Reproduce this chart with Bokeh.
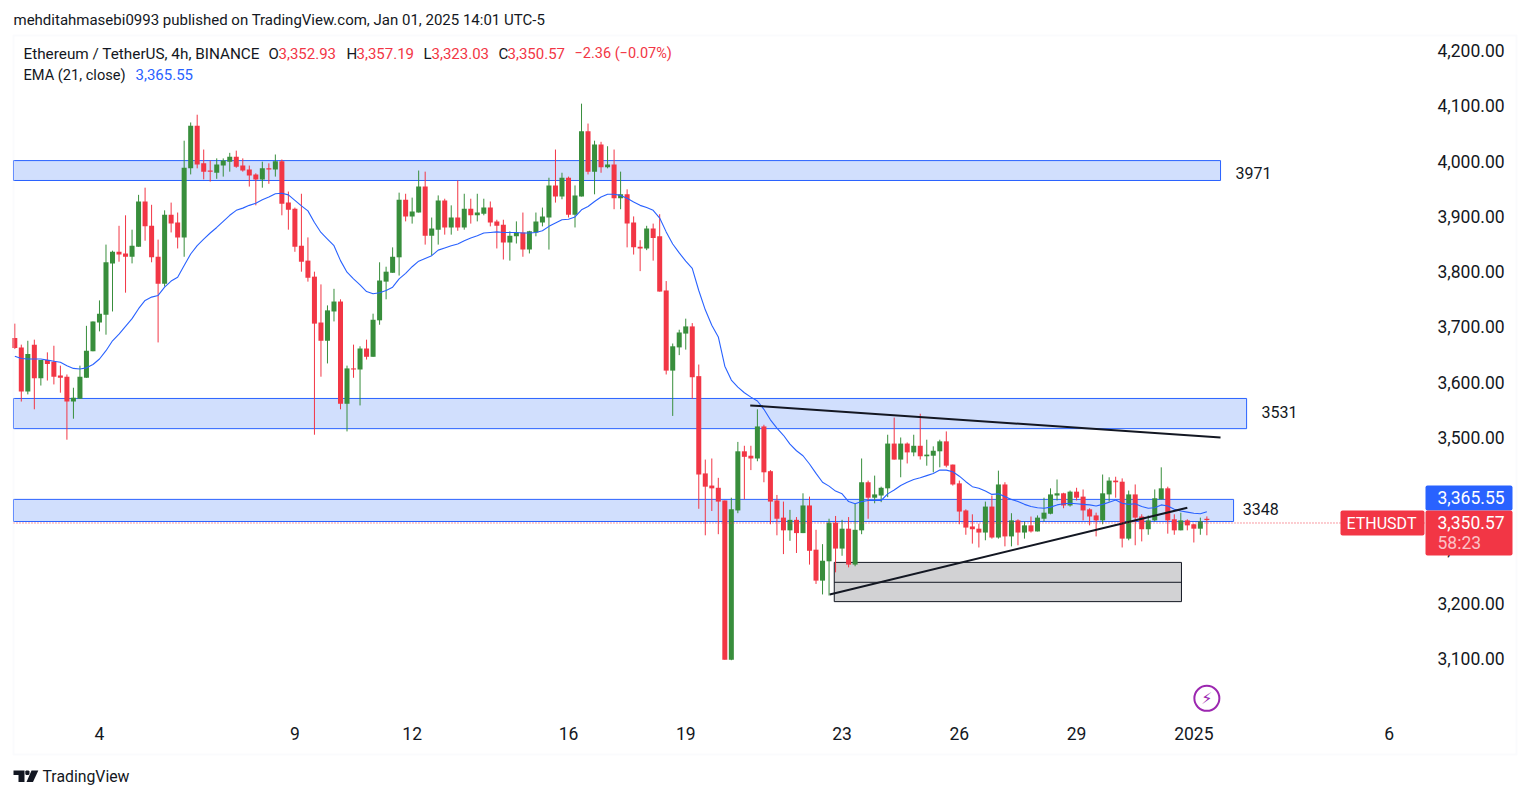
from bokeh.plotting import figure
from bokeh.models import (Range1d, LinearAxis, FixedTicker, NumeralTickFormatter, Label, BoxAnnotation,
                          PolyAnnotation, ColumnDataSource)
from bokeh.embed import file_html
from bokeh.resources import INLINE

directions = ("rrgrgrrrrg" "ggggggrrgg" "rrrgrrggrr" "rgggrrrrgr" "grrrrrrrgg" "rgrgrggggg" "rggrggrgrg" "rggrrrggrg"
              "gggrgrggrg" "rgrgrrrgrr" "rgggrrrrrr" "ggrrgrrrrg" "rgrrggrgrg" "grgggrgrgr" "gggrrrrrrg" "rgrgrgrggg"
              "grgrrrrggr" "rgrrgggrrg" "rrgr")
highs = [3706,3668,3675,3677,3640,3654,3666,3630,3614,3590,
3630,3702,3710,3748,3849,3838,3883,3902,3876,3939,
3952,3921,3858,3911,3925,3907,4037,4070,4084,4021,
4001,4005,4005,4015,4019,4005,3992,3978,3999,3996,
4012,4003,3945,3916,3941,3862,3800,3777,3739,3769,
3750,3630,3668,3665,3677,3724,3817,3809,3844,3943,
3941,3934,3983,3981,3898,3938,3932,3920,3965,3941,
3932,3941,3932,3927,3894,3894,3873,3891,3907,3874,
3907,3916,3970,4021,3979,3972,3956,4104,4068,4037,
4035,4027,4021,3981,3949,3900,3857,3883,3887,3904,
3783,3670,3695,3715,3707,3632,3460,3462,3427,3386,
3391,3492,3485,3485,3551,3523,3441,3396,3384,3369,
3356,3399,3393,3333,3307,3353,3358,3351,3356,3380,
3462,3422,3431,3411,3505,3536,3500,3491,3505,3543,
3496,3484,3496,3511,3451,3422,3370,3361,3344,3384,
3395,3440,3419,3363,3352,3348,3357,3359,3391,3408,
3424,3400,3404,3409,3406,3372,3364,3433,3428,3429,
3426,3404,3415,3361,3359,3406,3446,3411,3361,3364,
3352,3344,3355,3357.19]
body_tops = [3680,3663,3651,3668,3640,3640,3637,3612,3610,3572,
3610,3657,3710,3724,3817,3836,3836,3833,3847,3927,
3927,3883,3827,3903,3903,3889,3988,4064,4064,3996,
3983,3994,4001,4008,4008,3992,3985,3976,3987,3987,
4000,4000,3925,3914,3847,3820,3791,3708,3730,3746,
3746,3625,3625,3661,3661,3713,3784,3800,3827,3930,
3930,3909,3954,3954,3878,3929,3929,3898,3898,3914,
3914,3907,3916,3916,3891,3885,3865,3871,3871,3873,
3891,3900,3956,3956,3970,3970,3938,4054,4054,4030,
4030,3994,3994,3940,3940,3889,3845,3878,3878,3864,
3766,3665,3690,3701,3701,3611,3435,3413,3409,3386,
3370,3475,3475,3467,3520,3520,3439,3386,3355,3351,
3351,3377,3377,3297,3277,3346,3346,3335,3335,3333,
3419,3419,3397,3409,3489,3489,3489,3489,3485,3485,
3469,3476,3493,3493,3451,3417,3368,3339,3335,3375,
3375,3415,3415,3350,3350,3341,3341,3355,3364,3397,
3399,3399,3402,3402,3393,3370,3359,3399,3422,3422,
3420,3397,3397,3357,3350,3390,3408,3408,3352,3350,
3350,3343,3348,3352.93]
body_bottoms = [3662,3583,3583,3607,3607,3633,3610,3608,3565,3565,
3570,3608,3656,3708,3722,3815,3831,3827,3827,3845,
3882,3826,3778,3778,3887,3862,3862,3987,3994,3981,
3981,3979,3992,3999,3990,3983,3974,3967,3967,3985,
3985,3923,3912,3845,3818,3789,3706,3675,3675,3728,
3561,3561,3623,3623,3646,3646,3712,3782,3798,3826,
3900,3900,3907,3865,3865,3876,3880,3880,3880,3880,
3902,3902,3905,3889,3883,3853,3853,3864,3840,3840,
3871,3889,3898,3936,3936,3903,3903,3936,3981,3981,
3989,3989,3933,3933,3887,3844,3842,3842,3861,3764,
3621,3621,3663,3688,3609,3433,3411,3408,3384,3098,
3098,3368,3465,3462,3462,3437,3384,3353,3332,3332,
3327,3327,3295,3241,3241,3276,3299,3299,3270,3270,
3332,3391,3391,3395,3408,3460,3460,3473,3473,3466,
3466,3467,3475,3449,3415,3366,3337,3334,3328,3328,
3319,3319,3321,3321,3328,3328,3330,3330,3353,3362,
3395,3377,3377,3391,3368,3357,3350,3350,3397,3419,
3317,3317,3355,3334,3334,3350,3388,3350,3332,3332,
3341,3335,3335,3350.57]
lows = [3660,3565,3578,3551,3594,3603,3596,3581,3496,3534,
3570,3608,3656,3692,3686,3728,3818,3762,3815,3845,
3856,3817,3672,3773,3871,3842,3827,3976,3987,3967,
3963,3968,3972,3981,3988,3981,3954,3920,3952,3959,
3972,3902,3876,3836,3800,3782,3505,3610,3634,3710,
3551,3511,3608,3558,3641,3646,3704,3750,3798,3793,
3891,3887,3907,3849,3829,3849,3867,3867,3874,3876,
3887,3891,3902,3882,3842,3822,3820,3851,3827,3833,
3864,3882,3840,3925,3931,3898,3880,3936,3976,3940,
3979,3987,3913,3913,3844,3831,3801,3839,3820,3764,
3614,3539,3649,3659,3570,3371,3323,3367,3325,3098,
3097,3363,3388,3441,3457,3419,3343,3323,3289,3313,
3291,3327,3270,3235,3216,3214,3256,3286,3265,3267,
3325,3353,3381,3383,3392,3460,3428,3453,3466,3460,
3449,3437,3446,3446,3413,3343,3324,3308,3301,3314,
3317,3317,3303,3303,3305,3317,3328,3330,3348,3361,
3386,3372,3375,3386,3350,3341,3321,3343,3384,3391,
3301,3314,3305,3312,3324,3348,3388,3326,3324,3332,
3332,3310,3324,3323.03]
ema_values = [3647,3643,3642,3642,3642,3640,3638,3636,3630,3625,
3624,3626,3632,3642,3657,3675,3687,3701,3715,3733,
3748,3754,3757,3772,3783,3790,3811,3832,3847,3859,
3870,3880,3891,3902,3911,3915,3920,3924,3930,3935,
3941,3942,3939,3929,3919,3910,3889,3871,3859,3847,
3820,3799,3787,3776,3764,3760,3762,3766,3772,3787,
3797,3809,3819,3824,3829,3839,3843,3847,3850,3856,
3861,3865,3870,3871,3872,3871,3871,3871,3870,3870,
3871,3874,3882,3888,3894,3895,3899,3912,3918,3927,
3935,3940,3940,3938,3933,3926,3920,3916,3911,3897,
3872,3850,3834,3819,3806,3766,3731,3703,3682,3629,
3604,3591,3581,3573,3566,3551,3532,3517,3504,3488,
3476,3467,3452,3435,3419,3412,3403,3398,3384,3380,
3384,3386,3386,3386,3398,3405,3413,3419,3424,3427,
3431,3435,3441,3441,3438,3430,3420,3411,3408,3403,
3397,3398,3393,3388,3384,3379,3375,3373,3372,3374,
3378,3380,3381,3380,3379,3378,3376,3379,3383,3387,
3381,3379,3380,3375,3372,3373,3378,3376,3370,3367,
3365,3363,3362,3365.55]
for a in (highs, body_tops, body_bottoms, lows, ema_values):
    assert len(a) == len(directions) == 184

price_ticks = [3100,3200,3300,3400,3500,3600,3700,3800,3900,4000,4100,4200]
date_tick_positions = [13,43,61,85,103,127,145,163,181,211]
date_tick_labels = ["4","9","12","16","19","23","26","29","2025","6"]

chart_left = -0.2
chart_right = 216.56
zones = [("3971", 185.1, 4001, 3965, 187.4, 3979),
         ("3531", 189.1, 3570.6, 3516, 191.4, 3547),
         ("3348", 187.1, 3388, 3348, 188.5, 3370)]
gray_box = (125.8, 179.1, 3274, 3238, 3203)
trend_down = ([112.9, 185.1], [3558, 3500])
trend_up = ([125.1, 180.0], [3216, 3373])
last_price_line = 3345.3

RED, GREEN, BLUE, INK = "#f23645", "#388e3c", "#2962ff", "#131722"
FONT = "Roboto"
FIG_W, FIG_H = 1529, 798

p = figure(width=FIG_W, height=FIG_H, output_backend="svg", toolbar_location=None,
           x_range=Range1d(-2.195, 232.53), y_range=Range1d(2846.8, 4290.66),
           min_border_left=0, min_border_right=0, min_border_top=0, min_border_bottom=0,
           x_axis_location=None, y_axis_location=None, background_fill_color="white", border_fill_color="white")
p.outline_line_color = None
p.grid.visible = False

def style(ax, standoff):
    ax.axis_line_color = None
    ax.major_tick_line_color = None
    ax.minor_tick_line_color = None
    ax.major_label_text_font = FONT
    ax.major_label_text_font_size = "17.5px"
    ax.major_label_text_font_style = "normal"
    ax.major_label_text_color = INK
    ax.major_label_standoff = standoff

ya = LinearAxis(ticker=FixedTicker(ticks=price_ticks), formatter=NumeralTickFormatter(format="0,0.00"))
style(ya, -98)
p.add_layout(ya, "right")
xa = LinearAxis(ticker=FixedTicker(ticks=date_tick_positions),
                major_label_overrides=dict(zip(date_tick_positions, date_tick_labels)))
style(xa, -78)
p.add_layout(xa, "below")

# zones
for name, right, top, bottom, lx, ly in zones:
    p.quad(left=[chart_left], right=[right], top=[top], bottom=[bottom], fill_color="#d1dffd", line_color=BLUE, line_width=1)
    p.add_layout(Label(x=lx, y=ly, text=name, text_font=FONT, text_font_size="16px", text_color=INK,
                       text_baseline="middle", text_align="left"))
gl, gr, gt, gm, gb = gray_box
p.quad(left=[gl], right=[gr], top=[gt], bottom=[gb], fill_color="#d2d2d4", line_color=INK, line_width=1)
p.segment(x0=[gl], x1=[gr], y0=[gm], y1=[gm], line_color=INK, line_width=1)

# candles
idx = list(range(len(directions)))
colors = [RED if d == "r" else GREEN for d in directions]
src = ColumnDataSource(dict(x=idx, hi=highs, lo=lows, top=body_tops, bot=body_bottoms, c=colors))
p.segment(x0="x", x1="x", y0="lo", y1="hi", line_color="c", line_width=1, source=src)
p.vbar(x="x", width=0.77, top="top", bottom="bot", fill_color="c", line_color=None, source=src)

p.line(idx, ema_values, line_color=BLUE, line_width=1.1)
p.line(trend_down[0], trend_down[1], line_color=INK, line_width=2)
p.line(trend_up[0], trend_up[1], line_color=INK, line_width=2)

p.segment(x0=[chart_left], x1=[chart_right], y0=[last_price_line], y1=[last_price_line], line_color=RED,
          line_dash="1 2", line_width=1)

# lightning event marker
p.scatter([183], [3028], marker="circle", size=25, fill_color="white", line_color="#9c27b0", line_width=2)
p.add_layout(Label(x=183, y=3028, text="\u26a1", text_font="DejaVu Sans", text_font_size="16px", text_color="#9c27b0",
                   text_align="center", text_baseline="middle"))

def sy(py): return FIG_H - py

def box(x0, x1, y0, y1, **kw):
    p.add_layout(BoxAnnotation(left=x0, right=x1, top=sy(y0), bottom=sy(y1), left_units="screen",
                               right_units="screen", top_units="screen", bottom_units="screen", **kw))

def poly(pts):
    p.add_layout(PolyAnnotation(xs=[a for a, b in pts], ys=[sy(b) for a, b in pts], xs_units="screen",
                                ys_units="screen", fill_color=INK, fill_alpha=1, line_alpha=0))

def text(px, py, s, color=INK, size="15px", style_="normal", align="left"):
    p.add_layout(Label(x=px, y=sy(py), x_units="screen", y_units="screen", text=s, text_font=FONT,
                       text_font_size=size, text_color=color, text_baseline="middle", text_align=align,
                       text_font_style=style_))

# pane border
box(13, 1516, 35, 754, fill_alpha=0, line_color="#f0f3fa", line_width=2)

# price tags
box(1425, 1512, 485, 510, fill_color=BLUE, fill_alpha=1, line_alpha=0, border_radius=2)
box(1425, 1512, 510, 555, fill_color=RED, fill_alpha=1, line_alpha=0, border_radius=2)
box(1340, 1424, 510, 535, fill_color=RED, fill_alpha=1, line_alpha=0, border_radius=2)
text(1437, 497, "3,365.55", "white", "17.5px")
text(1437, 522, "3,350.57", "white", "17.5px")
text(1437, 542, "58:23", "#fbc1c6", "17.5px")
text(1346, 523, "ETHUSDT", "white", "16px")

# headers
text(13, 19, "mehditahmasebi0993 published on TradingView.com, Jan 01, 2025 14:01 UTC-5")
text(23, 53, "Ethereum / TetherUS, 4h, BINANCE", size="15.3px")
text(268, 53, "O"); text(278, 53, "3,352.93", RED)
text(346, 53, "H"); text(356, 53, "3,357.19", RED)
text(423, 53, "L"); text(431, 53, "3,323.03", RED)
text(498, 53, "C"); text(507, 53, "3,350.57", RED)
text(574, 53, "\u22122.36 (\u22120.07%)", RED, "14.5px")
text(23, 74, "EMA (21, close)", size="14.6px")
text(135, 74, "3,365.55", BLUE)
text(42, 776, "TradingView", INK, "15.8px")

# TradingView logo
poly([(13, 770), (24, 770), (24, 781.5), (18, 781.5), (18, 774.5), (13, 774.5)])
poly([(25.5, 770), (28, 770), (29, 771), (29, 773.5), (28, 774.5), (25.5, 774.5), (24.8, 773.5), (24.8, 771)])
poly([(31, 770), (37.8, 770), (32.5, 781.5), (26, 781.5)])

open("out.html", "w").write(file_html(p, INLINE))
